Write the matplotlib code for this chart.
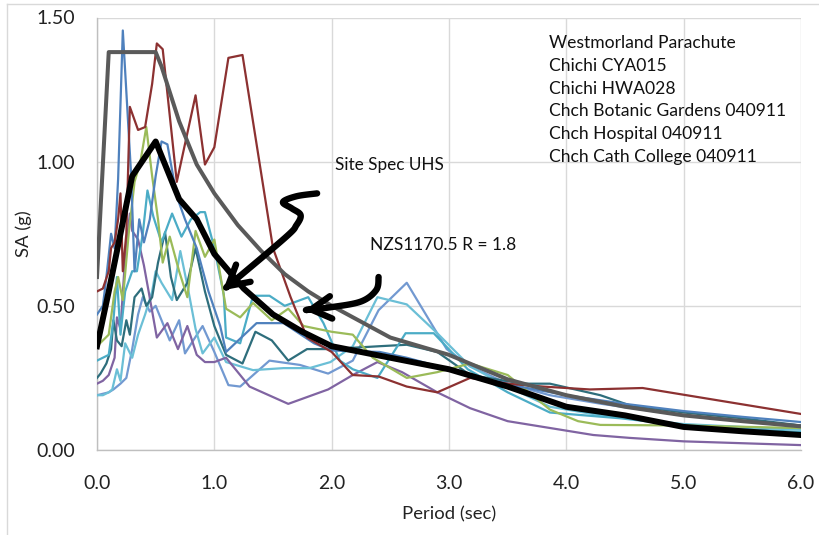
import numpy as np
import matplotlib
matplotlib.use("Agg")
import matplotlib.pyplot as plt
from matplotlib.path import Path
from matplotlib.patches import FancyArrowPatch
from matplotlib.lines import Line2D

plt.rcParams['font.family'] = ['Lato', 'DejaVu Sans']

# ---------------- data (period in s, SA in g) ----------------
red_T = [0, 0.05, 0.1, 0.12, 0.15, 0.18, 0.2, 0.22, 0.25, 0.28, 0.35, 0.41, 0.47, 0.51, 0.56,
         0.68, 0.84, 0.92, 1.0, 1.12, 1.24, 1.5, 1.65, 1.79, 2.0, 2.18, 2.4, 2.64, 2.9, 3.18,
         3.5, 3.8, 4.2, 4.65, 5.1, 6.0]
red_SA = [0.55, 0.56, 0.62, 0.70, 0.72, 0.80, 0.89, 0.62, 0.75, 1.19, 1.11, 1.12, 1.27, 1.41, 1.39,
          0.93, 1.23, 0.99, 1.05, 1.36, 1.37, 0.70, 0.53, 0.39, 0.34, 0.26, 0.255, 0.22, 0.20, 0.25,
          0.23, 0.22, 0.21, 0.215, 0.185, 0.125]

blue_T = [0, 0.05, 0.08, 0.12, 0.15, 0.18, 0.22, 0.29, 0.32, 0.36, 0.40, 0.45, 0.5, 0.55, 0.6,
          0.68, 0.75, 0.85, 0.95, 1.05, 1.1, 1.36, 1.59, 1.85, 2.0, 2.41, 2.64, 3.18, 3.6, 4.0,
          4.5, 5.0, 5.5, 6.0]
blue_SA = [0.47, 0.50, 0.60, 0.75, 0.70, 0.94, 1.455, 0.96, 0.62, 0.80, 0.72, 0.80, 0.95, 1.07, 1.06,
           0.88, 0.80, 0.70, 0.55, 0.43, 0.34, 0.44, 0.44, 0.37, 0.345, 0.34, 0.32, 0.26, 0.22, 0.19,
           0.16, 0.135, 0.115, 0.097]

green_T = [0, 0.1, 0.15, 0.18, 0.22, 0.27, 0.32, 0.37, 0.42, 0.47, 0.52, 0.56, 0.62, 0.70, 0.77,
           0.84, 0.92, 1.0, 1.1, 1.22, 1.33, 1.49, 1.63, 1.76, 2.0, 2.18, 2.35, 2.64, 2.9, 3.18,
           3.5, 3.86, 4.1, 4.29, 5.0, 6.0]
green_SA = [0.36, 0.40, 0.55, 0.60, 0.52, 0.75, 0.93, 1.00, 1.12, 0.95, 0.80, 0.65, 0.74, 0.62, 0.53,
            0.76, 0.67, 0.73, 0.49, 0.46, 0.51, 0.45, 0.49, 0.43, 0.41, 0.40, 0.32, 0.25, 0.27, 0.30,
            0.26, 0.14, 0.10, 0.087, 0.085, 0.076]

purple_T = [0, 0.05, 0.1, 0.15, 0.17, 0.2, 0.24, 0.28, 0.3, 0.35, 0.4, 0.44, 0.51, 0.6, 0.69,
            0.77, 0.85, 0.92, 1.0, 1.1, 1.3, 1.63, 1.97, 2.18, 2.39, 2.6, 2.9, 3.18, 3.5, 4.23,
            4.54, 5.0, 6.0]
purple_SA = [0.23, 0.24, 0.26, 0.32, 0.46, 0.42, 0.67, 0.82, 0.76, 0.73, 0.64, 0.55, 0.39, 0.44, 0.35,
             0.43, 0.33, 0.305, 0.305, 0.32, 0.22, 0.16, 0.21, 0.26, 0.305, 0.27, 0.20, 0.145, 0.10, 0.052,
             0.042, 0.03, 0.017]

aqua_T = [0, 0.1, 0.14, 0.17, 0.2, 0.24, 0.3, 0.34, 0.39, 0.43, 0.48, 0.55, 0.64, 0.72, 0.8,
          0.88, 0.92, 1.0, 1.08, 1.1, 1.22, 1.33, 1.47, 1.6, 1.8, 1.93, 2.07, 2.18, 2.39, 2.63,
          2.87, 3.16, 3.5, 3.86, 4.46, 5.0, 6.0]
aqua_SA = [0.31, 0.33, 0.45, 0.60, 0.40, 0.55, 0.62, 0.62, 0.75, 0.90, 0.81, 0.72, 0.82, 0.74, 0.80,
           0.825, 0.825, 0.70, 0.54, 0.39, 0.37, 0.535, 0.535, 0.50, 0.53, 0.44, 0.31, 0.28, 0.25, 0.405,
           0.405, 0.28, 0.20, 0.13, 0.11, 0.085, 0.062]

teal_T = [0, 0.03, 0.08, 0.12, 0.14, 0.17, 0.21, 0.25, 0.28, 0.32, 0.38, 0.42, 0.47, 0.52, 0.58,
          0.63, 0.68, 0.77, 0.84, 0.92, 1.0, 1.1, 1.24, 1.35, 1.49, 1.63, 1.79, 1.99, 2.41, 2.64,
          2.9, 3.18, 3.63, 3.86, 4.29, 4.54, 5.0, 5.5, 6.0]
teal_SA = [0.25, 0.265, 0.30, 0.35, 0.45, 0.38, 0.36, 0.45, 0.40, 0.53, 0.56, 0.50, 0.53, 0.65, 0.755,
           0.60, 0.52, 0.58, 0.70, 0.55, 0.43, 0.33, 0.30, 0.41, 0.38, 0.31, 0.35, 0.35, 0.36, 0.365,
           0.34, 0.26, 0.23, 0.23, 0.19, 0.155, 0.13, 0.11, 0.085]

ltblue_T = [0, 0.05, 0.1, 0.14, 0.2, 0.25, 0.3, 0.35, 0.39, 0.45, 0.5, 0.55, 0.62, 0.7, 0.75,
            0.82, 0.9, 1.0, 1.12, 1.22, 1.47, 1.73, 1.97, 2.18, 2.4, 2.64, 2.98, 3.18, 3.5, 3.86,
            4.3, 5.0, 6.0]
ltblue_SA = [0.19, 0.195, 0.20, 0.21, 0.23, 0.25, 0.35, 0.47, 0.53, 0.48, 0.50, 0.45, 0.38, 0.45, 0.335,
             0.38, 0.43, 0.34, 0.225, 0.22, 0.31, 0.295, 0.265, 0.31, 0.485, 0.58, 0.35, 0.29, 0.23, 0.19,
             0.16, 0.12, 0.085]

ltcyan_T = [0, 0.05, 0.1, 0.13, 0.17, 0.2, 0.24, 0.3, 0.35, 0.41, 0.47, 0.5, 0.55, 0.64, 0.71,
            0.78, 0.84, 0.9, 1.0, 1.1, 1.33, 1.59, 1.81, 1.99, 2.18, 2.39, 2.64, 2.9, 3.18, 3.5,
            3.86, 4.3, 5.0, 6.0]
ltcyan_SA = [0.19, 0.19, 0.20, 0.21, 0.28, 0.24, 0.37, 0.32, 0.40, 0.47, 0.55, 0.62, 0.58, 0.52, 0.69,
             0.55, 0.42, 0.335, 0.39, 0.305, 0.277, 0.284, 0.284, 0.305, 0.36, 0.53, 0.505, 0.405, 0.29, 0.22,
             0.15, 0.12, 0.09, 0.07]

uhs_T = [0, 0.1, 0.5, 0.55, 0.7, 0.85, 1.0, 1.2, 1.4, 1.6, 1.8, 2.0, 2.5, 3.0, 3.5, 4.0, 4.5,
         5.0, 5.5, 6.0]
uhs_SA = [0.60, 1.38, 1.38, 1.33, 1.14, 0.99, 0.89, 0.78, 0.69, 0.61, 0.55, 0.50, 0.39, 0.33, 0.245,
          0.19, 0.15, 0.12, 0.10, 0.082]

nzs_T = [0, 0.1, 0.3, 0.5, 0.7, 0.85, 1.0, 1.25, 1.5, 1.75, 2.0, 2.5, 3.0, 3.5, 4.0, 4.5, 5.0,
         5.5, 6.0]
nzs_SA = [0.36, 0.55, 0.95, 1.07, 0.87, 0.80, 0.68, 0.56, 0.47, 0.41, 0.36, 0.32, 0.28, 0.22, 0.15,
          0.12, 0.08, 0.065, 0.052]

legend_names = ["Westmorland Parachute", "Chichi CYA015", "Chichi HWA028",
                "Chch Botanic Gardens 040911", "Chch Hospital 040911", "Chch Cath College 040911"]
x_ticks = [0, 1, 2, 3, 4, 5, 6]
y_ticks = [0.0, 0.5, 1.0, 1.5]

# ---------------- figure ----------------
fig = plt.figure(figsize=(8.2, 5.35), dpi=100)
ax = fig.add_axes([97/820, 85/535, 704/820, 432.5/535])

thin = [
    (ltblue_T, ltblue_SA, '#7299D1'),
    (ltcyan_T, ltcyan_SA, '#6BBFD6'),
    (purple_T, purple_SA, '#8064A2'),
    (teal_T, teal_SA, '#2E6E7C'),
    (aqua_T, aqua_SA, '#4BACC6'),
    (green_T, green_SA, '#9BBB59'),
    (blue_T, blue_SA, '#4F81BD'),
    (red_T, red_SA, '#8C3131'),
]
for T, SA, c in thin:
    ax.plot(T, SA, color=c, lw=1.6, solid_joinstyle='round', zorder=3)

ax.plot(uhs_T, uhs_SA, color='#5A5A5A', lw=2.9, solid_joinstyle='round', zorder=4)
ax.plot(nzs_T, nzs_SA, color='black', lw=4.3, solid_joinstyle='round', zorder=5)

ax.set_xlim(0, 6)
ax.set_ylim(0, 1.5)
ax.set_xticks(x_ticks)
ax.set_yticks(y_ticks)
ax.set_xticklabels([f"{v:.1f}" for v in x_ticks])
ax.set_yticklabels([f"{v:.2f}" for v in y_ticks])
ax.tick_params(axis='both', length=0, labelsize=14, colors='#222222')
ax.tick_params(axis='x', pad=18)
ax.tick_params(axis='y', pad=16)
ax.grid(True, color='#D9D9D9', lw=1.0, zorder=0)
ax.set_axisbelow(True)
for s in ['top', 'right']:
    ax.spines[s].set_visible(False)
for s in ['left', 'bottom']:
    ax.spines[s].set_color('#BFBFBF')
    ax.spines[s].set_linewidth(1.0)

ax.set_xlabel("Period (sec)", fontsize=13.3, color='#222222', labelpad=10)
ax.set_ylabel("SA (g)", fontsize=13.3, color='#222222', labelpad=3)

# legend-like text block
for i, name in enumerate(legend_names):
    fig.text(549/820, 1 - (43 + i*22.8)/535, name, fontsize=12.6, color='#111111',
             ha='left', va='center')

# annotation texts
ax.text(2.03, 0.99, "Site Spec UHS", fontsize=12.3, color='#111111', ha='left', va='center')
ax.text(2.33, 0.71, "NZS1170.5 R = 1.8", fontsize=12.5, color='#111111', ha='left', va='center')

def smooth(pts, n=12):
    p = np.asarray(pts, float)
    p = np.vstack([p[0], p, p[-1]])
    out = []
    for i in range(1, len(p) - 2):
        p0, p1, p2, p3 = p[i-1], p[i], p[i+1], p[i+2]
        for t in np.linspace(0, 1, n, endpoint=False):
            t2, t3 = t*t, t*t*t
            out.append(0.5*((2*p1) + (-p0 + p2)*t + (2*p0 - 5*p1 + 4*p2 - p3)*t2
                            + (-p0 + 3*p1 - 3*p2 + p3)*t3))
    out.append(p[-2])
    return np.array(out)

arrow1 = [(1.876, 0.890), (1.70, 0.880), (1.585, 0.860), (1.66, 0.838), (1.735, 0.815),
          (1.70, 0.780), (1.60, 0.735), (1.074, 0.554)]
arrow2 = [(2.40, 0.600), (2.38, 0.555), (2.25, 0.515), (1.99, 0.495), (1.77, 0.485)]
for pts in (arrow1, arrow2):
    sp = smooth(pts)
    path = Path(sp)
    arr = FancyArrowPatch(path=path, arrowstyle='->,head_length=0.8,head_width=0.45',
                          mutation_scale=18, lw=4.6, color='black', capstyle='round',
                          joinstyle='round', zorder=6)
    ax.add_patch(arr)

# chart-area border
fig.add_artist(Line2D([7/820, 7/820], [0, 1 - 4/535], transform=fig.transFigure,
                      color='#D9D9D9', lw=1))
fig.add_artist(Line2D([7/820, 1], [1 - 4/535, 1 - 4/535], transform=fig.transFigure,
                      color='#D9D9D9', lw=1))

fig.savefig("out.png", dpi=100)
